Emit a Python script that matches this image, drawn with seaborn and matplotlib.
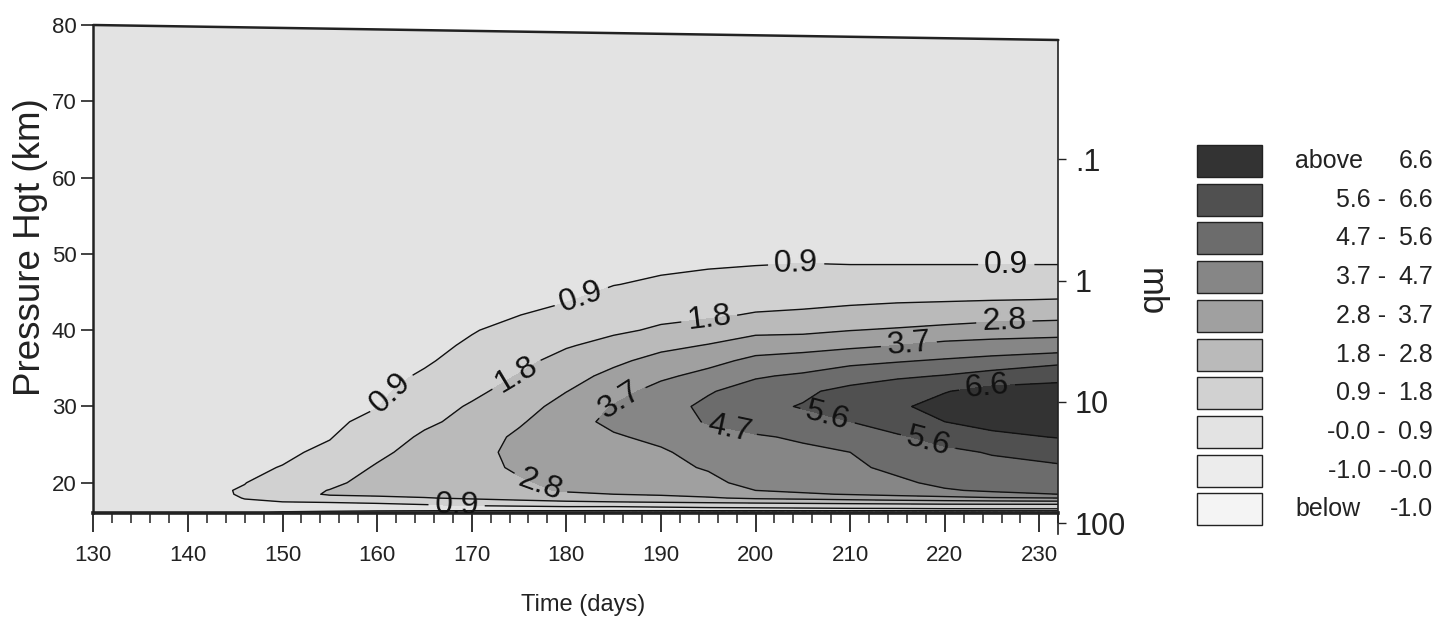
import numpy as np
import matplotlib
matplotlib.use("Agg")
import matplotlib.pyplot as plt
from matplotlib.patches import Rectangle, Polygon
from matplotlib.lines import Line2D
import seaborn as sns

# ---------------- data ----------------
times = [130, 140, 144, 146, 150, 155, 160, 165, 170, 175, 180,
         185, 190, 195, 200, 205, 210, 215, 220, 225, 232]
heights = [16, 16.5, 17, 17.5, 18, 18.5, 19, 20, 22, 24, 26, 28, 30,
           32, 34, 36, 38, 40, 42, 44, 46, 48, 50, 60, 80]

# one profile (values at `heights`) per entry of `times`
values_by_time = [
    [0.2, 0.3, 0.35, 0.4, 0.42, 0.43, 0.45, 0.45, 0.45, 0.45, 0.43, 0.42, 0.4, 0.4, 0.38, 0.37, 0.36, 0.35, 0.35, 0.34, 0.33, 0.32, 0.31, 0.27, 0.2],
    [0.2, 0.35, 0.5, 0.6, 0.66, 0.68, 0.7, 0.68, 0.63, 0.58, 0.54, 0.5, 0.47, 0.45, 0.43, 0.42, 0.41, 0.4, 0.39, 0.38, 0.37, 0.36, 0.35, 0.3, 0.2],
    [0.15, 0.4, 0.6, 0.72, 0.8, 0.84, 0.86, 0.83, 0.76, 0.69, 0.63, 0.58, 0.54, 0.5, 0.48, 0.46, 0.44, 0.43, 0.42, 0.41, 0.4, 0.39, 0.38, 0.32, 0.2],
    [0.1, 0.45, 0.7, 0.84, 0.92, 0.98, 0.97, 0.88, 0.8, 0.73, 0.66, 0.61, 0.56, 0.53, 0.5, 0.48, 0.46, 0.45, 0.44, 0.43, 0.42, 0.41, 0.4, 0.33, 0.2],
    [-0.2, 0.3, 0.65, 0.9, 1.2, 1.38, 1.42, 1.3, 0.92, 0.8, 0.72, 0.66, 0.61, 0.57, 0.54, 0.51, 0.49, 0.48, 0.47, 0.46, 0.45, 0.44, 0.43, 0.35, 0.2],
    [-0.4, 0.35, 0.65, 0.95, 1.5, 1.9, 1.83, 1.6, 1.25, 1.02, 0.87, 0.77, 0.7, 0.64, 0.6, 0.56, 0.53, 0.51, 0.5, 0.49, 0.48, 0.47, 0.46, 0.37, 0.2],
    [-0.7, 0.4, 0.75, 1.0, 1.6, 2.0, 2.12, 2.15, 1.9, 1.58, 1.3, 1.08, 0.88, 0.77, 0.69, 0.63, 0.59, 0.56, 0.54, 0.52, 0.51, 0.5, 0.49, 0.39, 0.2],
    [-0.9, 0.45, 0.8, 1.15, 1.75, 2.1, 2.25, 2.35, 2.33, 2.2, 1.95, 1.62, 1.38, 1.18, 0.98, 0.82, 0.72, 0.65, 0.6, 0.57, 0.55, 0.53, 0.51, 0.41, 0.2],
    [-1.1, 0.5, 0.9, 1.3, 1.95, 2.2, 2.32, 2.4, 2.45, 2.42, 2.3, 2.1, 1.9, 1.6, 1.35, 1.15, 0.99, 0.86, 0.76, 0.69, 0.64, 0.6, 0.57, 0.45, 0.2],
    [-1.2, 0.55, 0.95, 1.55, 2.1, 2.4, 2.55, 2.68, 2.95, 3.1, 2.98, 2.68, 2.4, 2.15, 1.85, 1.55, 1.3, 1.1, 0.89, 0.78, 0.7, 0.65, 0.61, 0.47, 0.2],
    [-1.3, 0.6, 1.0, 1.7, 2.3, 2.65, 2.9, 3.05, 3.2, 3.35, 3.45, 3.45, 3.15, 2.78, 2.45, 2.12, 1.72, 1.4, 1.13, 0.85, 0.74, 0.67, 0.62, 0.48, 0.2],
    [-1.4, 0.6, 1.0, 1.8, 2.45, 2.8, 3.0, 3.2, 3.4, 3.52, 3.63, 3.85, 3.75, 3.4, 3.05, 2.6, 2.1, 1.65, 1.4, 1.15, 0.88, 0.75, 0.67, 0.5, 0.2],
    [-1.5, 0.65, 1.05, 1.9, 2.55, 2.9, 3.2, 3.4, 3.55, 3.62, 3.85, 4.25, 4.35, 4.0, 3.55, 3.12, 2.55, 1.92, 1.6, 1.3, 1.02, 0.82, 0.72, 0.52, 0.2],
    [-1.5, 0.7, 1.1, 2.0, 2.7, 3.1, 3.35, 3.55, 3.75, 3.95, 4.3, 4.78, 4.9, 4.62, 3.95, 3.45, 2.85, 2.25, 1.65, 1.35, 1.1, 0.9, 0.76, 0.54, 0.2],
    [-1.6, 0.7, 1.15, 2.1, 2.95, 3.45, 3.7, 3.9, 4.15, 4.4, 4.62, 5.05, 5.4, 5.1, 4.6, 3.9, 3.3, 2.55, 1.88, 1.45, 1.18, 0.93, 0.8, 0.55, 0.2],
    [-1.6, 0.72, 1.2, 2.2, 3.05, 3.6, 3.85, 4.1, 4.4, 4.55, 4.8, 5.35, 5.65, 5.45, 4.85, 4.1, 3.35, 2.6, 1.95, 1.55, 1.25, 0.95, 0.82, 0.56, 0.2],
    [-1.6, 0.75, 1.25, 2.3, 3.2, 3.75, 4.0, 4.25, 4.5, 4.7, 5.15, 5.6, 6.2, 5.85, 5.2, 4.45, 3.5, 2.78, 2.1, 1.62, 1.28, 0.93, 0.83, 0.57, 0.2],
    [-1.6, 0.75, 1.3, 2.4, 3.35, 3.9, 4.2, 4.5, 4.95, 5.25, 5.5, 6.0, 6.45, 6.2, 5.45, 4.62, 3.7, 2.9, 2.25, 1.68, 1.3, 0.93, 0.83, 0.58, 0.2],
    [-1.6, 0.78, 1.35, 2.5, 3.45, 4.1, 4.6, 4.95, 5.3, 5.45, 5.85, 6.6, 6.95, 6.55, 5.65, 4.8, 3.95, 3.05, 2.35, 1.72, 1.32, 0.93, 0.83, 0.58, 0.2],
    [-1.6, 0.8, 1.35, 2.55, 3.6, 4.4, 4.85, 5.15, 5.4, 5.65, 6.35, 6.95, 7.2, 6.95, 5.95, 5.0, 4.05, 3.2, 2.45, 1.77, 1.34, 0.93, 0.83, 0.58, 0.2],
    [-1.6, 0.8, 1.35, 2.6, 3.7, 4.7, 5.1, 5.35, 5.5, 5.9, 6.65, 7.2, 7.4, 7.05, 6.25, 5.35, 4.1, 3.35, 2.5, 1.82, 1.36, 0.93, 0.83, 0.58, 0.2],
]

unlabelled_levels = [-1.0, 0.0]
labelled_levels = [0.9, 1.8, 2.8, 3.7, 4.7, 5.6, 6.6]
label_times = [161.9, 181.7, 204.3, 226.5, 168.4, 174.8, 195.1, 177.2, 226.3,
               185.9, 216.2, 197.2, 207.5, 218.2, 224.5]
label_heights = [31.3, 44.0, 48.5, 48.5, 17.0, 34.0, 41.5, 19.6, 41.1,
                 30.4, 38.3, 27.0, 28.3, 25.2, 32.2]

x_ticks = [130, 140, 150, 160, 170, 180, 190, 200, 210, 220, 230]
y_ticks = [20, 30, 40, 50, 60, 70, 80]
mb_labels = [".1", "1", "10", "100"]
mb_heights = [62.4, 46.5, 30.6, 14.7]

legend_left = ["above", "5.6 -", "4.7 -", "3.7 -", "2.8 -", "1.8 -",
               "0.9 -", "-0.0 -", "-1.0 -", "below"]
legend_right = ["6.6", "6.6", "5.6", "4.7", "3.7", "2.8", "1.8", "0.9",
                "-0.0", "-1.0"]

# ---------------- style ----------------
fill_colors = ['#f4f4f4', '#ececec', '#e3e3e3', '#d1d1d1', '#bababa',
               '#a0a0a0', '#868686', '#6c6c6c', '#505050', '#333333']

sns.set_theme(style="ticks")
plt.rcParams['font.family'] = ['Liberation Sans', 'DejaVu Sans']

W, H = 1439, 619
fig = plt.figure(figsize=(W / 100, H / 100), dpi=100)
fig.patch.set_facecolor('white')

x0, x1, y_top, y_bot = 93.3, 1058.3, 25.0, 513.3
ax = fig.add_axes([x0 / W, 1 - y_bot / H, (x1 - x0) / W, (y_bot - y_top) / H])

V = np.array(values_by_time).T
all_levels = sorted(unlabelled_levels + labelled_levels)
fill_levels = [-3.0] + all_levels + [9.0]
ax.contourf(times, heights, V, levels=fill_levels, colors=fill_colors)
ax.contour(times, heights, V, levels=unlabelled_levels, colors='#111111',
           linewidths=1.0)
cs = ax.contour(times, heights, V, levels=labelled_levels, colors='#111111',
                linewidths=1.0)
ax.clabel(cs, manual=list(zip(label_times, label_heights)),
          fmt='%.1f', fontsize=23, inline=True, inline_spacing=6)

ax.set_xlim(130, 232)
ax.set_ylim(16, 80)
ax.set_xticks(x_ticks)
ax.set_xticks(np.arange(130, 233, 2), minor=True)
ax.set_yticks(y_ticks)
ax.tick_params(axis='x', which='major', length=14, width=1.3, direction='out',
               labelsize=16, pad=9, colors='#222222')
ax.tick_params(axis='x', which='minor', length=7, width=1.1, direction='out',
               colors='#222222')
ax.tick_params(axis='y', which='major', length=9, width=1.2, direction='out',
               labelsize=16, pad=3, colors='#222222')
ax.tick_params(axis='y', which='minor', left=False)

for side in ['top', 'right']:
    ax.spines[side].set_visible(False)
ax.spines['left'].set_linewidth(1.8)
ax.spines['bottom'].set_linewidth(2.6)
ax.spines['left'].set_color('#222222')
ax.spines['bottom'].set_color('#222222')

# slanted top border as in the original scan
slant = 15.0 / (y_bot - y_top)
ax.add_patch(Polygon([(0, 1), (1, 1 - slant), (1, 1.001), (0, 1.001)],
                     closed=True, transform=ax.transAxes, facecolor='white',
                     edgecolor='none', zorder=5, clip_on=False))
ax.add_line(Line2D([0, 1], [1, 1 - slant], transform=ax.transAxes,
                   color='#222222', linewidth=1.8, zorder=6, clip_on=False))

ax.set_xlabel("Time (days)", fontsize=17, color='#222222')
ax.xaxis.set_label_coords(0.5075, -0.165)
ax.set_ylabel("Pressure Hgt (km)", fontsize=26.5, color='#222222')
ax.yaxis.set_label_coords(-0.047, 0.545)

# right pressure axis (extends slightly below the plot)
r_bot = 534.0
z_bot = 16 - (r_bot - y_bot) * 64.0 / (y_bot - y_top)
ax_r = fig.add_axes([x1 / W, 1 - r_bot / H, 0.00001, (r_bot - y_top) / H])
ax_r.set_facecolor('none')
ax_r.set_ylim(z_bot, 80)
ax_r.set_xticks([])
for side in ['top', 'left', 'bottom']:
    ax_r.spines[side].set_visible(False)
ax_r.spines['right'].set_bounds(z_bot, 80 - 15.0 * 64.0 / (y_bot - y_top))
ax_r.spines['right'].set_linewidth(1.2)
ax_r.spines['right'].set_color('#222222')
ax_r.yaxis.tick_right()
ax_r.set_yticks(mb_heights)
ax_r.set_yticklabels(mb_labels)
ax_r.tick_params(axis='y', which='major', length=6, width=1.0, direction='out',
                 labelsize=22, pad=6, colors='#222222')
ax_r.tick_params(axis='y', which='minor', right=False, left=False)
fig.text(1150 / W, 1 - 292 / H, "mb", rotation=270, fontsize=25,
         ha='center', va='center', color='#222222')

# legend boxes
ax_l = fig.add_axes([0, 0, 1, 1], facecolor='none')
ax_l.set_xlim(0, W)
ax_l.set_ylim(H, 0)
ax_l.axis('off')
legend_colors = fill_colors[::-1]
for i, (lt, rt, col) in enumerate(zip(legend_left, legend_right, legend_colors)):
    top = 145 + i * 38.7
    ax_l.add_patch(Rectangle((1197, top), 65, 32, facecolor=col,
                             edgecolor='#222222', linewidth=1.0))
    yc = top + 16
    if lt in ("above", "below"):
        ax_l.text(1295, yc, lt, ha='left', va='center', fontsize=18, color='#222222')
    else:
        ax_l.text(1386, yc, lt, ha='right', va='center', fontsize=18, color='#222222')
    ax_l.text(1433, yc, rt, ha='right', va='center', fontsize=18, color='#222222')

fig.savefig("out.png", dpi=100, facecolor='white')
